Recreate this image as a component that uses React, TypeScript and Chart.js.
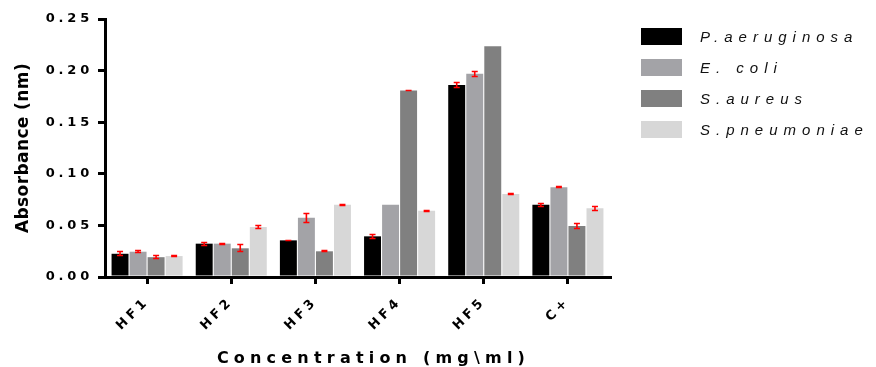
import { useEffect, useRef } from 'react';
import { Chart, registerables } from 'chart.js';

Chart.register(...registerables);

const categories = ['HF1', 'HF2', 'HF3', 'HF4', 'HF5', 'C+'];
const seriesNames = ['P.aeruginosa', 'E. coli', 'S.aureus', 'S.pneumoniae'];
const seriesColors = ['#000000', '#a3a3a7', '#808080', '#d7d7d7'];

const pAeruginosa = [0.0225, 0.0323, 0.0355, 0.0394, 0.186, 0.070];
const eColi = [0.0245, 0.0323, 0.0575, 0.070, 0.197, 0.0869];
const sAureus = [0.0192, 0.0278, 0.0249, 0.1806, 0.2236, 0.0494];
const sPneumoniae = [0.0203, 0.0484, 0.070, 0.0642, 0.0804, 0.0666];

const pAeruginosaErr = [0.0025, 0.002, 0.0008, 0.0022, 0.003, 0.002];
const eColiErr = [0.0015, 0.001, 0.005, 0, 0.003, 0.001];
const sAureusErr = [0.002, 0.004, 0.001, 0.0008, 0, 0.0025];
const sPneumoniaeErr = [0.0008, 0.002, 0.001, 0.0008, 0.0008, 0.0025];

const yTicks = [0, 0.05, 0.1, 0.15, 0.2, 0.25];
const xTitle = 'Concentration (mg\\ml)';
const yTitle = 'Absorbance (nm)';

const seriesValues = [pAeruginosa, eColi, sAureus, sPneumoniae];
const seriesErrors = [pAeruginosaErr, eColiErr, sAureusErr, sPneumoniaeErr];

const FONT = '"Liberation Sans", Arial, Helvetica, sans-serif';
const WIDE = '"DejaVu Sans", Verdana, sans-serif';

const spacingPlugin = {
  id: 'spacing',
  beforeLayout(chart: any) {
    chart.ctx.letterSpacing = '3.8px';
  },
  beforeDraw(chart: any) {
    chart.ctx.letterSpacing = '3.8px';
  },
};

const errorBarPlugin = {
  id: 'errorBars',
  afterDatasetsDraw(chart: any) {
    const ctx = chart.ctx;
    const y = chart.scales.y;
    ctx.save();
    ctx.strokeStyle = '#ff0000';
    ctx.lineWidth = 1.6;
    chart.data.datasets.forEach((ds: any, i: number) => {
      const meta = chart.getDatasetMeta(i);
      const errs = seriesErrors[i];
      meta.data.forEach((bar: any, j: number) => {
        const e = errs[j];
        if (!e) return;
        const v = ds.data[j];
        const yt = Math.round(y.getPixelForValue(v + e)) + 0.5;
        const yb = Math.round(y.getPixelForValue(v - e)) - 0.5;
        const x = bar.x;
        const cap = 3;
        ctx.beginPath();
        ctx.moveTo(x, yt);
        ctx.lineTo(x, yb);
        ctx.moveTo(x - cap, yt);
        ctx.lineTo(x + cap, yt);
        ctx.moveTo(x - cap, yb);
        ctx.lineTo(x + cap, yb);
        ctx.stroke();
      });
    });
    ctx.restore();
  },
};

const decorPlugin = {
  id: 'decor',
  afterDraw(chart: any) {
    const ctx = chart.ctx;
    const area = chart.chartArea;
    ctx.save();
    // x title
    ctx.fillStyle = '#000';
    ctx.font = `bold 16px ${WIDE}`;
    ctx.letterSpacing = '5.2px';
    ctx.textAlign = 'center';
    ctx.textBaseline = 'alphabetic';
    ctx.fillText(xTitle, (area.left + area.right) / 2 + 16, 363);
    // y title
    ctx.save();
    ctx.font = `bold 17px ${WIDE}`;
    ctx.letterSpacing = '0.4px';
    ctx.translate(28, (area.top + area.bottom) / 2);
    ctx.rotate(-Math.PI / 2);
    ctx.fillText(yTitle, 0, 0);
    ctx.restore();
    // legend
    ctx.font = `italic 15px ${FONT}`;
    ctx.letterSpacing = '6px';
    ctx.textAlign = 'left';
    chart.data.datasets.forEach((ds: any, i: number) => {
      const top = 28 + i * 31;
      ctx.fillStyle = ds.backgroundColor;
      ctx.fillRect(641, top, 41, 17);
      ctx.fillStyle = '#111';
      ctx.fillText(ds.label, 700, top + 14);
    });
    ctx.restore();
  },
};

export default function App() {
  const ref = useRef<HTMLCanvasElement>(null);

  useEffect(() => {
    const canvas = ref.current;
    if (!canvas) return;
    const chart = new Chart(canvas, {
      type: 'bar',
      data: {
        labels: categories,
        datasets: seriesNames.map((name, i) => ({
          label: name,
          data: seriesValues[i],
          backgroundColor: seriesColors[i],
          borderWidth: 0,
          categoryPercentage: 0.857,
          barPercentage: 0.94,
        })),
      },
      options: {
        animation: false,
        responsive: false,
        devicePixelRatio: 1,
        layout: { padding: { left: 0, right: 266, top: 19, bottom: 0 } },
        plugins: {
          legend: { display: false },
          tooltip: { enabled: false },
          title: { display: false },
        },
        scales: {
          x: {
            afterFit: (s: any) => {
              s.height = 90;
            },
            grid: {
              display: true,
              offset: false,
              drawOnChartArea: false,
              drawTicks: true,
              tickLength: 7,
              lineWidth: 3,
              color: '#000',
            },
            border: { display: true, color: '#000', width: 3 },
            ticks: {
              minRotation: 45,
              maxRotation: 45,
              color: '#000',
              padding: 10,
              font: { family: WIDE, size: 13, weight: 'bold' },
            },
          },
          y: {
            min: 0,
            max: 0.25,
            afterFit: (s: any) => {
              s.width = 105;
            },
            afterBuildTicks: (s: any) => {
              s.ticks = yTicks.map((v) => ({ value: v }));
            },
            grid: {
              display: true,
              drawOnChartArea: false,
              drawTicks: true,
              tickLength: 7,
              lineWidth: 3,
              color: '#000',
            },
            border: { display: true, color: '#000', width: 3 },
            ticks: {
              color: '#000',
              padding: 5,
              font: { family: WIDE, size: 13, weight: 'bold' },
              callback: (v: any) => Number(v).toFixed(2),
            },
          },
        },
      } as any,
      plugins: [spacingPlugin, errorBarPlugin, decorPlugin],
    });
    return () => chart.destroy();
  }, []);

  return (
    <div style={{ position: 'fixed', left: 0, top: 0, width: 876, height: 367, background: '#fff' }}>
      <canvas ref={ref} width={876} height={367} />
    </div>
  );
}
